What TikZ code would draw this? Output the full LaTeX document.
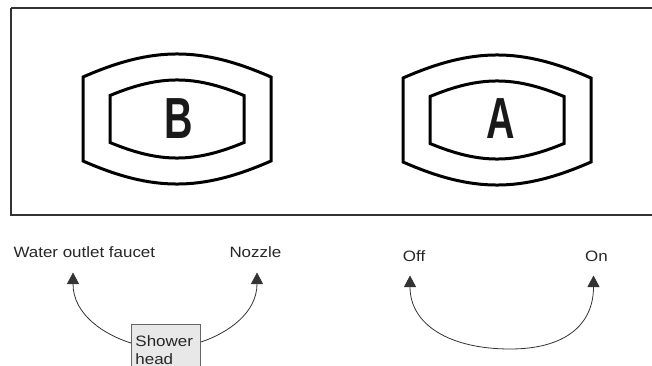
\documentclass[tikz,border=0pt]{standalone}
\usepackage{graphicx}
\usepackage{fontspec}
\setmainfont{Liberation Sans}
\usetikzlibrary{arrows.meta}
\newcommand{\widetxt}[1]{\scalebox{1.13}[1]{#1}}
\newcommand{\narrowtxt}[1]{\scalebox{0.68}[1]{#1}}
\tikzset{
  thickline/.style={line width=3pt, line join=miter, draw=black},
  badge/.pic={
    \draw[thickline] (-94,-42) .. controls (-24,-72.7) and (24,-72.7) .. (94,-42)
      -- (94,42) .. controls (24,72.7) and (-24,72.7) .. (-94,42) -- cycle;
    \draw[thickline] (-67,-23.5) .. controls (-17,-44.2) and (17,-44.2) .. (67,-23.5)
      -- (67,23.5) .. controls (17,44.2) and (-17,44.2) .. (-67,23.5) -- cycle;
  },
  letter/.style={anchor=base, inner sep=0pt, font=\fontsize{58}{60}\selectfont\bfseries, text=black!90},
  lbl/.style={anchor=base west, inner sep=0pt, font=\fontsize{15}{18}\selectfont, text=black!85},
  shbox/.style={draw=black!60, fill=black!9, line width=0.9pt, anchor=north west,
    text width=61pt, inner xsep=4pt, inner ysep=6pt, align=left,
    font=\fontsize{15}{18}\selectfont, text=black!85, minimum height=52pt},
  conn/.style={draw=black!80, line width=0.8pt, -{Triangle[width=12pt,length=11.5pt]}},
  conn2/.style={draw=black!80, line width=0.8pt, {Triangle[width=12pt,length=11.5pt]}-{Triangle[width=12pt,length=11.5pt]}},
  frame/.style={draw=black!80, line width=1.5pt}
}
\begin{document}
\begin{tikzpicture}[x=1pt,y=-1pt]
\useasboundingbox (0,0) rectangle (652,366);
\draw[frame] (11,8) -- (670,8) (11,8) -- (11,215) -- (670,215);
\pic at (177,119) {badge};
\pic at (497,120) {badge};
\node[letter] (lb) at (178.5,138.5) {\narrowtxt{B}};
\node[letter] (la) at (500.5,138.5) {\narrowtxt{A}};
\node[lbl] (wf) at (13.3,257.2) {\widetxt{Water outlet faucet}};
\node[lbl] (nz) at (229.3,257.8) {\widetxt{Nozzle}};
\node[lbl] (off) at (402.7,261.7) {\widetxt{Off}};
\node[lbl] (on) at (585,261.7) {\widetxt{On}};
\node[shbox] (sh) at (131,324) {\widetxt{Shower}\\\widetxt{head}};
\coordinate (wft) at (73,272.5);
\coordinate (nzt) at (257,272.5);
\coordinate (offt) at (410,275.5);
\coordinate (ont) at (593.5,275.5);
\coordinate (bot) at (510,349);
\draw[conn] ([yshift=-19pt]sh.north west) .. controls (105,335) and (73,315) .. (wft);
\draw[conn] ([yshift=-18pt]sh.north east) .. controls (228,333) and (257,313) .. (nzt);
\draw[conn2] (offt) .. controls (410,325) and (450,349) .. (bot) .. controls (565,349) and (593.5,325) .. (ont);
\end{tikzpicture}
\end{document}
